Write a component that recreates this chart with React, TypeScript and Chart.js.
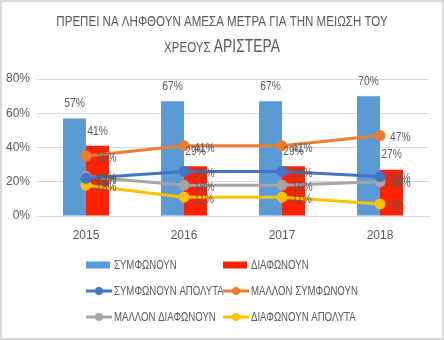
import React, { useEffect, useRef } from "react";
import { Chart, registerables } from "chart.js";

Chart.register(...registerables);

const categories = ["2015", "2016", "2017", "2018"];
const agree = [0.57, 0.67, 0.67, 0.7];
const disagree = [0.41, 0.29, 0.29, 0.27];
const agreeAbs = [0.22, 0.26, 0.26, 0.23];
const ratherAgree = [0.35, 0.41, 0.41, 0.47];
const ratherDisagree = [0.23, 0.18, 0.18, 0.2];
const disagreeAbs = [0.18, 0.11, 0.11, 0.07];
const yTicks = [0, 0.2, 0.4, 0.6, 0.8];

const FONT = "'Liberation Sans', 'DejaVu Sans', sans-serif";
const TXT = "#595959";

function condText(ctx: any, text: string, x: number, y: number, align: "left" | "center", sq = 0.78) {
  const w = ctx.measureText(text).width * sq;
  const left = align === "center" ? x - w / 2 : x;
  ctx.save();
  ctx.textAlign = "left";
  ctx.translate(left, y);
  ctx.scale(sq, 1);
  ctx.fillText(text, 0, 0);
  ctx.restore();
  return w;
}

const titlePlugin = {
  id: "customTitle",
  afterDraw(chart: any) {
    const ctx = chart.ctx;
    const cx = chart.width / 2;
    ctx.save();
    ctx.fillStyle = TXT;
    ctx.textBaseline = "middle";
    ctx.font = `15px ${FONT}`;
    condText(ctx, "ΠΡΕΠΕΙ ΝΑ ΛΗΦΘΟΥΝ ΑΜΕΣΑ ΜΕΤΡΑ ΓΙΑ ΤΗΝ ΜΕΙΩΣΗ ΤΟΥ", cx, 22, "center", 0.77);
    const a = "ΧΡΕΟΥΣ ";
    const b = "ΑΡΙΣΤΕΡΑ";
    ctx.font = `15px ${FONT}`;
    const wa = ctx.measureText(a).width * 0.77;
    ctx.font = `18px ${FONT}`;
    const wb = ctx.measureText(b).width * 0.77;
    const start = cx - (wa + wb) / 2;
    ctx.font = `15px ${FONT}`;
    condText(ctx, a, start, 48, "left", 0.77);
    ctx.font = `18px ${FONT}`;
    condText(ctx, b, start + wa, 47, "left", 0.77);
    ctx.restore();
  },
};

const labelsPlugin = {
  id: "valueLabels",
  afterDatasetsDraw(chart: any) {
    const ctx = chart.ctx;
    ctx.save();
    ctx.fillStyle = TXT;
    ctx.font = `13.5px ${FONT}`;
    ctx.textBaseline = "middle";
    chart.data.datasets.forEach((ds: any, i: number) => {
      if (ds.type !== "bar") return;
      const meta = chart.getDatasetMeta(i);
      meta.data.forEach((el: any, j: number) => {
        condText(ctx, Math.round(ds.data[j] * 100) + "%", el.x, el.y - 15, "center", 0.76);
      });
    });
    chart.data.datasets.forEach((ds: any, i: number) => {
      if (ds.type !== "line") return;
      const meta = chart.getDatasetMeta(i);
      meta.data.forEach((el: any, j: number) => {
        condText(ctx, Math.round(ds.data[j] * 100) + "%", el.x + 10, el.y + 2, "left", 0.76);
      });
    });
    ctx.restore();
  },
};

const legendPlugin = {
  id: "customLegend",
  afterDraw(chart: any) {
    const ctx = chart.ctx;
    const cols = [86, 223];
    const rows = [265, 291, 317];
    ctx.save();
    ctx.font = `13px ${FONT}`;
    ctx.textBaseline = "middle";
    chart.data.datasets.forEach((ds: any, i: number) => {
      const x = cols[i % 2];
      const y = rows[Math.floor(i / 2)];
      if (ds.type === "bar") {
        ctx.fillStyle = ds.backgroundColor;
        ctx.fillRect(x, y - 3.5, 24, 7);
      } else {
        ctx.strokeStyle = ds.borderColor;
        ctx.lineWidth = 3;
        ctx.beginPath();
        ctx.moveTo(x, y);
        ctx.lineTo(x + 26, y);
        ctx.stroke();
        ctx.fillStyle = ds.borderColor;
        ctx.beginPath();
        ctx.arc(x + 13, y, 4, 0, Math.PI * 2);
        ctx.fill();
      }
      ctx.fillStyle = TXT;
      condText(ctx, ds.label, x + 28, y, "left", 0.74);
    });
    ctx.restore();
  },
};

export default function App() {
  const ref = useRef<HTMLCanvasElement>(null);
  useEffect(() => {
    document.body.style.margin = "0";
    const lineDs = (label: string, data: number[], color: string) => ({
      type: "line" as const,
      label,
      data,
      borderColor: color,
      backgroundColor: color,
      borderWidth: 3,
      pointRadius: 4,
      pointBackgroundColor: color,
      pointBorderColor: color,
      tension: 0,
      order: 0,
    });
    const chart = new Chart(ref.current!, {
      type: "bar",
      data: {
        labels: categories,
        datasets: [
          { type: "bar", label: "ΣΥΜΦΩΝΟΥΝ", data: agree, backgroundColor: "#5B9BD5", order: 1, categoryPercentage: 0.47, barPercentage: 1 },
          { type: "bar", label: "ΔΙΑΦΩΝΟΥΝ", data: disagree, backgroundColor: "#FF2200", order: 1, categoryPercentage: 0.47, barPercentage: 1 },
          lineDs("ΣΥΜΦΩΝΟΥΝ ΑΠΟΛΥΤΑ", agreeAbs, "#4472C4"),
          lineDs("ΜΑΛΛΟΝ ΣΥΜΦΩΝΟΥΝ", ratherAgree, "#ED7D31"),
          lineDs("ΜΑΛΛΟΝ ΔΙΑΦΩΝΟΥΝ", ratherDisagree, "#A5A5A5"),
          lineDs("ΔΙΑΦΩΝΟΥΝ ΑΠΟΛΥΤΑ", disagreeAbs, "#FFC000"),
        ] as any,
      },
      options: {
        animation: false,
        responsive: false,
        layout: { padding: { top: 79, left: 0, right: 15, bottom: 90 } },
        plugins: { legend: { display: false }, title: { display: false }, tooltip: { enabled: false } },
        scales: {
          x: {
            grid: { display: false, drawTicks: false },
            border: { display: true, color: "#d9d9d9" },
            ticks: { color: TXT, font: { family: FONT, size: 12 }, padding: 12 },
            afterFit: (s: any) => { s.height = 34; },
          },
          y: {
            min: 0,
            max: 0.8,
            afterBuildTicks: (s: any) => { s.ticks = yTicks.map((v) => ({ value: v })); },
            grid: { color: "#d9d9d9", drawTicks: false },
            border: { display: false },
            ticks: {
              color: TXT,
              font: { family: FONT, size: 12 },
              padding: 7,
              callback: (v: any) => Math.round(Number(v) * 100) + "%",
            },
            afterFit: (s: any) => { s.width = 37; },
          },
        },
      },
      plugins: [titlePlugin, labelsPlugin, legendPlugin],
    });
    return () => chart.destroy();
  }, []);
  return (
    <div style={{ position: "relative", width: 444, height: 340, boxSizing: "border-box", border: "2px solid #d9d9d9", background: "#fff", overflow: "hidden" }}>
      <canvas ref={ref} width={444} height={340} style={{ position: "absolute", left: -2, top: -2 }} />
    </div>
  );
}
